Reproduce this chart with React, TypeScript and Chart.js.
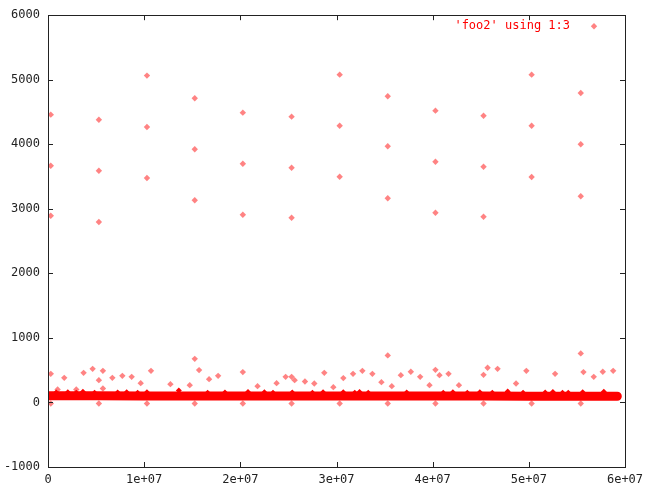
import React, { useEffect, useRef } from "react";
import { Chart, registerables } from "chart.js";

Chart.register(...registerables);

// ---- data (x values in units of 1e6) ----
const SERIES_LABEL = "'foo2' using 1:3";
const X_TICKS = [0, 1e7, 2e7, 3e7, 4e7, 5e7, 6e7];
const Y_TICKS = [-1000, 0, 1000, 2000, 3000, 4000, 5000, 6000];

const COLUMN_X = [0.29, 5.29, 10.29, 15.26, 20.26, 25.33, 30.33, 35.33, 40.29, 45.29, 50.29, 55.4];
const HIGH_TOP = [4459, 4381, 5064, 4713, 4490, 4428, 5079, 4744, 4521, 4443, 5079, 4795];
const HIGH_MID = [3668, 3591, 4268, 3922, 3699, 3637, 4288, 3969, 3730, 3653, 4288, 4000];
const HIGH_LOW = [2893, 2795, 3478, 3132, 2909, 2862, 3498, 3163, 2940, 2878, 3493, 3194];
const ZERO_ROW = [-15, -15, -15, -15, -15, -15, -15, -15, -15, -15, -15, -15];

const LOW_X = [
  0.29, 1.69, 3.7, 4.64, 5.71, 5.29, 6.69, 7.73, 8.7, 10.71, 9.64, 12.73,
  15.26, 15.71, 16.75, 17.69, 20.26, 24.71, 25.33, 25.65, 23.77, 26.72, 27.69, 28.73,
  14.74, 21.79, 30.71, 31.72, 32.69, 33.73, 34.67, 35.75, 35.33, 36.69, 37.73, 38.7,
  40.29, 40.71, 41.65, 39.67, 42.73, 29.67, 45.71, 46.75, 45.29, 49.74, 52.73, 55.4,
  55.68, 56.75, 57.69, 58.77, 48.67, 1.0, 2.94, 5.71,
];
const LOW_Y = [
  443, 381, 459, 521, 490, 346, 381, 412, 397, 490, 299, 284,
  676, 501, 361, 412, 470, 397, 397, 346, 299, 325, 294, 459,
  268, 253, 377, 443, 490, 443, 315, 253, 729, 423, 475, 397,
  505, 423, 443, 268, 268, 237, 537, 521, 428, 490, 443, 760,
  470, 397, 475, 490, 294, 201, 201, 217,
];

const BAND_X = [0.05, 5, 10, 15, 20, 25, 30, 35, 40, 45, 50, 55, 59.2];
const BAND_Y = [104, 102, 100, 100, 100, 100, 100, 100, 100, 99, 98, 98, 97];

const BUMP_X = [
  0.85, 2.06, 2.94, 3.63, 4.84, 7.24, 8.18, 9.32, 10.29, 13.6, 16.6, 18.4, 20.8, 22.5,
  23.4, 25.4, 27.5, 28.6, 30.7, 31.9, 32.4, 33.3, 37.3, 41.1, 42.1, 43.6, 44.9,
  46.2, 47.8, 49.4, 51.7, 52.5, 53.5, 54.1, 55.6, 57.8,
];
const BUMP_Y = [
  155, 160, 152, 165, 150, 155, 158, 152, 160, 185, 150, 155, 162, 158,
  152, 155, 150, 158, 160, 152, 162, 150, 155, 152, 158, 150, 160,
  152, 168, 150, 155, 162, 152, 150, 158, 165,
];

const FONT = '"DejaVu Sans Mono", monospace';
const OUTLIER_COLOR = "rgba(255, 30, 30, 0.55)";

function pts(xs: number[], ys: number[]) {
  return xs.map((x, i) => ({ x: x * 1e6, y: ys[i] }));
}

const framePlugin = {
  id: "gnuplotFrame",
  afterDraw(chart: any) {
    const { ctx, chartArea: a, scales } = chart;
    const xs = scales.x;
    const ys = scales.y;
    ctx.save();
    ctx.strokeStyle = "#222";
    ctx.lineWidth = 1;
    ctx.strokeRect(Math.round(a.left) + 0.5, Math.round(a.top) + 0.5, Math.round(a.right - a.left), Math.round(a.bottom - a.top));
    ctx.beginPath();
    const tl = 5;
    X_TICKS.forEach((v) => {
      const px = Math.round(xs.getPixelForValue(v)) + 0.5;
      ctx.moveTo(px, a.bottom);
      ctx.lineTo(px, a.bottom - tl);
      ctx.moveTo(px, a.top);
      ctx.lineTo(px, a.top + tl);
    });
    Y_TICKS.forEach((v) => {
      const py = Math.round(ys.getPixelForValue(v)) + 0.5;
      ctx.moveTo(a.left, py);
      ctx.lineTo(a.left + tl, py);
      ctx.moveTo(a.right, py);
      ctx.lineTo(a.right - tl, py);
    });
    ctx.stroke();

    // key
    ctx.font = `12px ${FONT}`;
    ctx.fillStyle = "#ff0000";
    ctx.textAlign = "right";
    ctx.textBaseline = "middle";
    ctx.fillText(SERIES_LABEL, a.right - 55, a.top + 11);
    const kx = a.right - 31;
    const ky = a.top + 11;
    const r = 3.2;
    ctx.fillStyle = OUTLIER_COLOR;
    ctx.beginPath();
    ctx.moveTo(kx, ky - r);
    ctx.lineTo(kx + r, ky);
    ctx.lineTo(kx, ky + r);
    ctx.lineTo(kx - r, ky);
    ctx.closePath();
    ctx.fill();
    ctx.restore();
  },
};

export default function App() {
  const ref = useRef<HTMLCanvasElement | null>(null);

  useEffect(() => {
    if (!ref.current) return;
    const outliers = [
      ...pts(COLUMN_X, HIGH_TOP),
      ...pts(COLUMN_X, HIGH_MID),
      ...pts(COLUMN_X, HIGH_LOW),
      ...pts(COLUMN_X, ZERO_ROW),
      ...pts(LOW_X, LOW_Y),
    ];
    const chart = new Chart(ref.current, {
      type: "scatter",
      data: {
        datasets: [
          {
            label: SERIES_LABEL + " band",
            data: pts(BAND_X, BAND_Y),
            showLine: true,
            borderColor: "#ff0000",
            borderWidth: 9,
            borderCapStyle: "round",
            pointRadius: 0,
            tension: 0,
          } as any,
          {
            label: SERIES_LABEL + " edge",
            data: pts(BUMP_X, BUMP_Y),
            pointStyle: "rectRot",
            pointRadius: 3,
            backgroundColor: "#ff0000",
            borderWidth: 0,
          },
          {
            label: SERIES_LABEL,
            data: outliers,
            pointStyle: "rectRot",
            pointRadius: 3.2,
            backgroundColor: OUTLIER_COLOR,
            borderWidth: 0,
          },
        ],
      },
      options: {
        animation: false,
        responsive: true,
        maintainAspectRatio: false,
        layout: { padding: { top: 14, right: 27, left: 0, bottom: 0 } },
        plugins: {
          legend: { display: false },
          tooltip: { enabled: false },
        },
        scales: {
          x: {
            type: "linear",
            min: 0,
            max: 6e7,
            afterFit: (s: any) => {
              s.height = 20;
            },
            afterBuildTicks: (s: any) => {
              s.ticks = X_TICKS.map((v) => ({ value: v }));
            },
            grid: { display: false, drawTicks: false },
            border: { display: false },
            ticks: {
              padding: 6,
              maxRotation: 0,
              minRotation: 0,
              autoSkip: false,
              color: "#222",
              font: { family: FONT, size: 12 },
              callback: (v: any) => (Number(v) === 0 ? "0" : `${Math.round(Number(v) / 1e7)}e+07`),
            },
          },
          y: {
            type: "linear",
            min: -1000,
            max: 6000,
            afterFit: (s: any) => {
              s.width = 48;
            },
            afterBuildTicks: (s: any) => {
              s.ticks = Y_TICKS.map((v) => ({ value: v }));
            },
            grid: { display: false, drawTicks: false },
            border: { display: false },
            ticks: {
              padding: 8,
              autoSkip: false,
              color: "#222",
              font: { family: FONT, size: 12 },
              callback: (v: any) => String(v),
            },
          },
        },
      },
      plugins: [framePlugin],
    });
    return () => chart.destroy();
  }, []);

  return (
    <div style={{ position: "absolute", left: 0, top: 0, width: 652, height: 487, background: "#fff" }}>
      <canvas ref={ref} />
    </div>
  );
}
